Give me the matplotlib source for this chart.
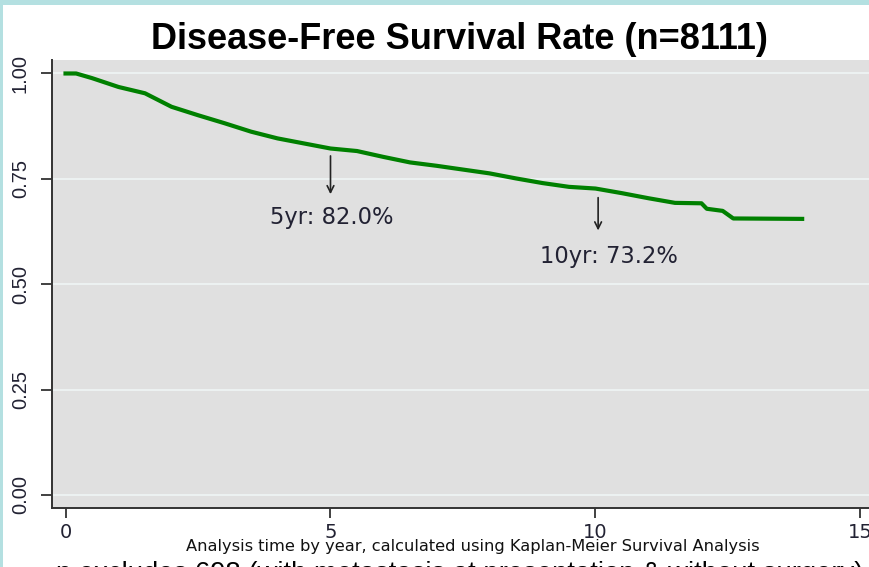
import matplotlib
matplotlib.use("Agg")
import matplotlib.pyplot as plt
from matplotlib.patches import Rectangle

# Kaplan-Meier disease-free survival
years = [0, 0.2, 0.5, 1.0, 1.5, 2.0, 2.5, 3.0, 3.5, 4.0, 4.5, 5.0, 5.5, 6.0, 6.5,
         7.0, 7.5, 8.0, 8.5, 9.0, 9.5, 10.0, 10.5, 11.0, 11.5, 12.0, 12.1, 12.4,
         12.6, 13.9]
survival = [1.0, 1.0, 0.989, 0.968, 0.953, 0.921, 0.901, 0.882, 0.862, 0.846,
            0.834, 0.822, 0.816, 0.802, 0.789, 0.781, 0.772, 0.763, 0.751, 0.740,
            0.731, 0.727, 0.716, 0.704, 0.693, 0.692, 0.679, 0.674, 0.656, 0.655]

xticks = [0, 5, 10, 15]
yticks = [0.0, 0.25, 0.5, 0.75, 1.0]
ytick_labels = ["0.00", "0.25", "0.50", "0.75", "1.00"]

# markers: (year, arrow top, arrow bottom, label x, label y, label)
marks = [(5, 0.811, 0.707, 5.02, 0.659, "5yr: 82.0%"),
         (10.05, 0.712, 0.621, 10.25, 0.565, "10yr: 73.2%")]

title = "Disease-Free Survival Rate (n=8111)"
xlabel = "Analysis time by year, calculated using Kaplan-Meier Survival Analysis"
note = "n excludes 698 (with metastasis at presentation & without surgery)"

W, H = 870, 567
fig = plt.figure(figsize=(W / 100, H / 100), dpi=100)
fig.patch.set_facecolor("#b4e0e1")
fig.patches.append(Rectangle((3 / W, 0), 1, 1 - 5 / H, transform=fig.transFigure,
                             facecolor="white", edgecolor="none", zorder=-10))

ax = fig.add_axes([52 / W, 1 - 508 / H, 1 - 52 / W, (508 - 60) / H])
ax.set_facecolor("#e0e0e0")
ax.plot(years, survival, color="#008000", lw=3.0, solid_joinstyle="round")

ax.set_xlim(-0.255, 15.18)
ax.set_ylim(-0.031, 1.032)

ax.set_yticks(yticks)
ax.set_yticklabels(ytick_labels, rotation=90, va="center",
                   family="Liberation Sans", fontsize=14.5)
ax.set_xticks(xticks)
ax.set_xticklabels([str(t) for t in xticks], family="DejaVu Sans", fontsize=14)
ax.tick_params(axis="y", length=8, width=1.3, pad=8, colors="#333333", labelcolor="#222233")
ax.tick_params(axis="x", length=7, width=1.3, pad=4, colors="#333333", labelcolor="#222233")
ax.grid(axis="y", color="#eef3f3", lw=1.3)
ax.set_axisbelow(True)
for s in ["top", "right"]:
    ax.spines[s].set_visible(False)
for s in ["left", "bottom"]:
    ax.spines[s].set_color("#333333")
    ax.spines[s].set_linewidth(1.4)

for x, y0, y1, tx, ty, lab in marks:
    ax.annotate("", xy=(x, y1), xytext=(x, y0),
                arrowprops=dict(arrowstyle="->", color="#222222", lw=1.2,
                                mutation_scale=12))
    ax.text(tx, ty, lab, ha="center", va="center", fontsize=16.3,
            family="DejaVu Sans", color="#222233")

fig.text(459.5 / W, 1 - 49 / H, title, ha="center", va="baseline",
         fontsize=26, fontweight="bold", family="Liberation Sans")
fig.text(473 / W, 1 - 546 / H, xlabel, ha="center", va="center",
         fontsize=11.7, family="DejaVu Sans", color="#111111")
fig.text(460 / W, 1 - 581 / H, note, ha="center", va="baseline",
         fontsize=19.8, family="Liberation Sans")

fig.savefig("out.png", dpi=100)
